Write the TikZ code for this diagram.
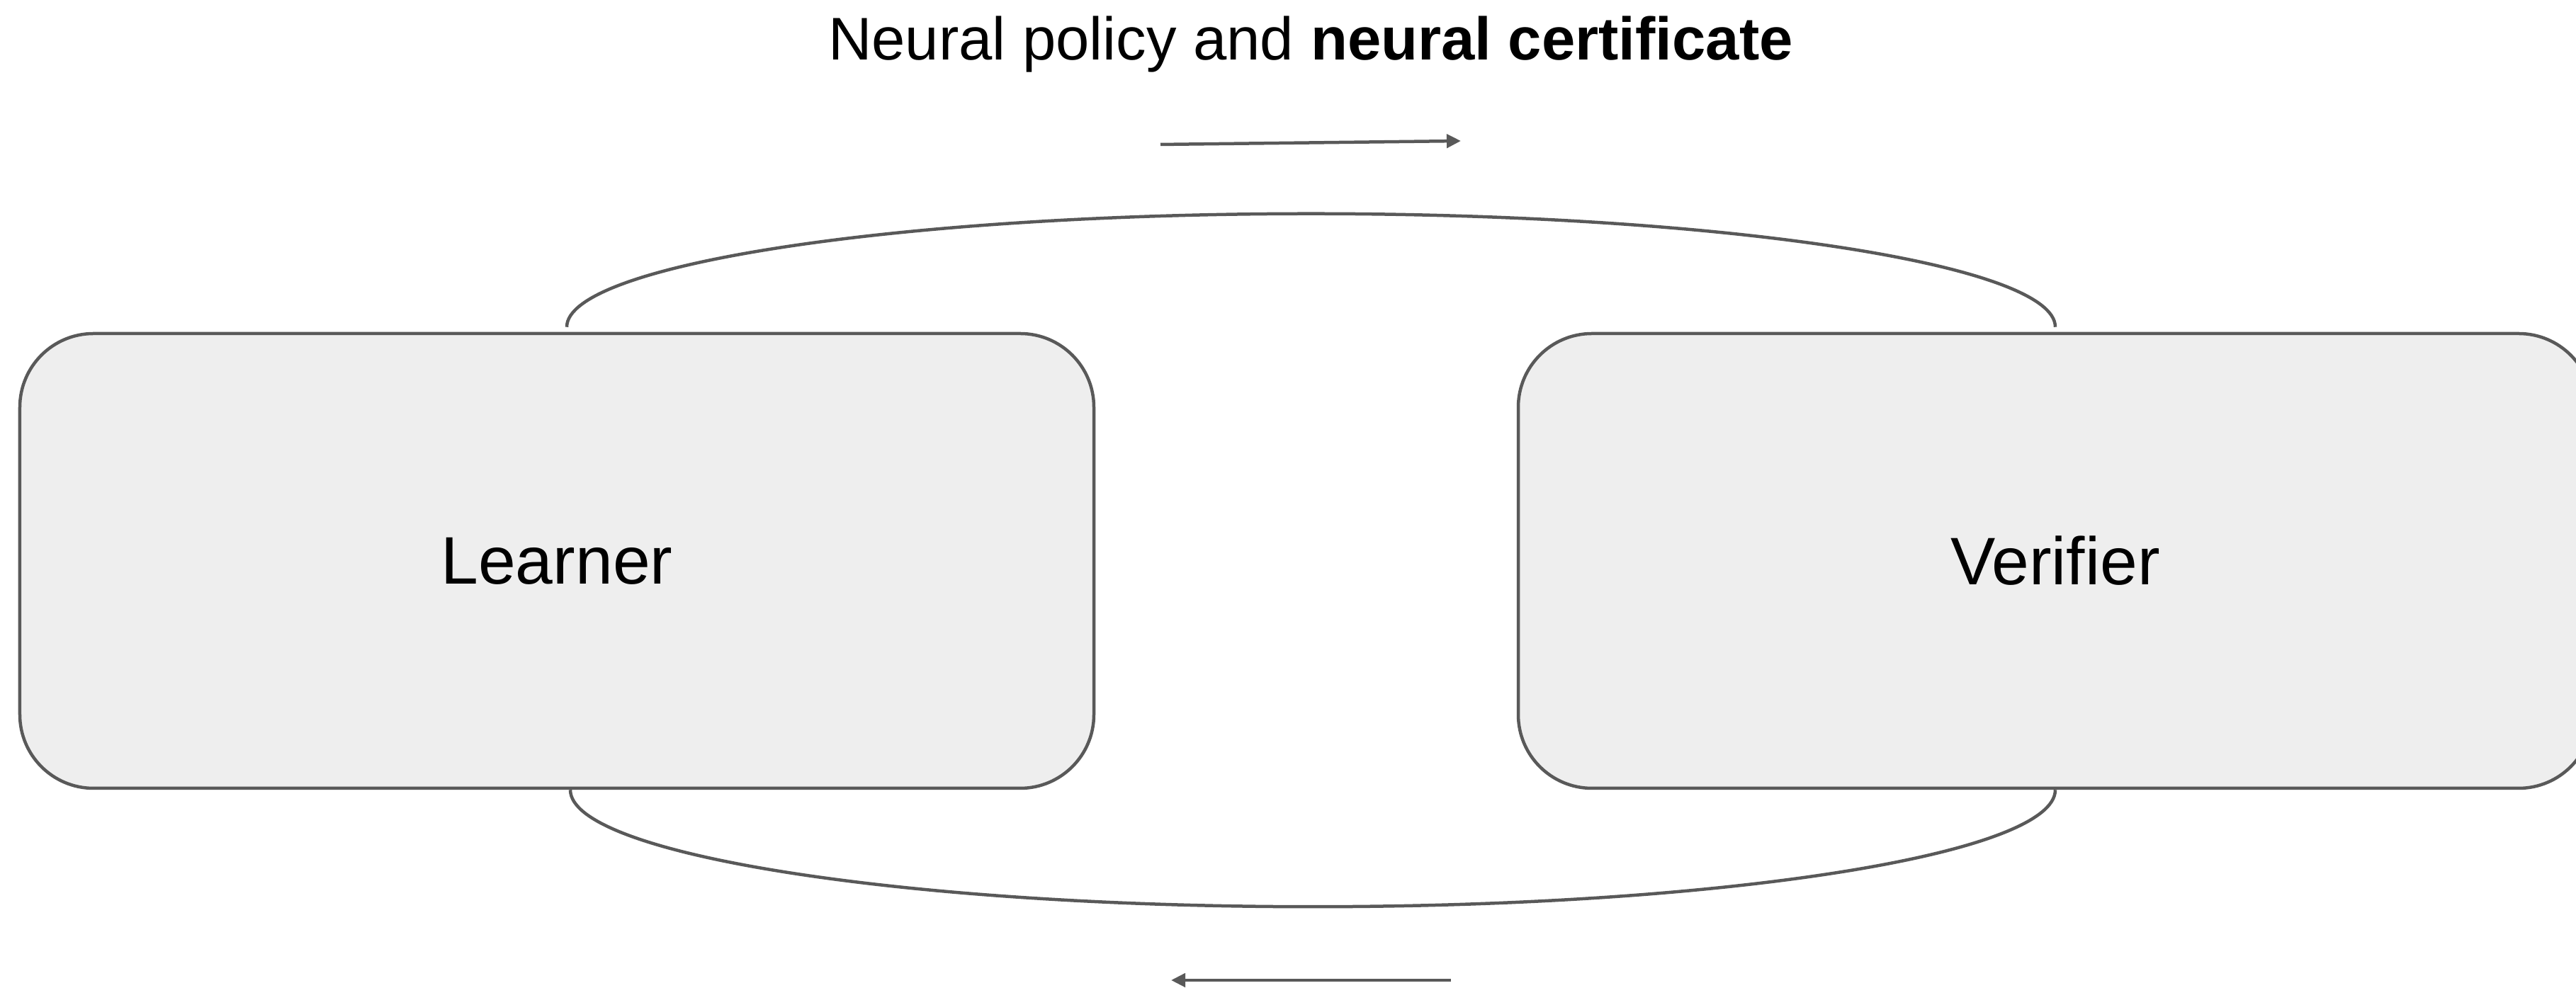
\documentclass[tikz,border=0pt]{standalone}
\usepackage{fontspec}
\setmainfont{Liberation Sans}
\usepackage{tikz}
\usetikzlibrary{positioning,arrows.meta,calc}
\definecolor{trazo}{HTML}{595959}
\definecolor{relleno}{HTML}{EEEEEE}

\begin{document}
\begin{tikzpicture}[
  font=\fontsize{27pt}{32pt}\selectfont,
  bloque/.style={draw=trazo, fill=relleno, line width=0.045cm, rounded corners=1.04cm,
                 minimum width=15.16cm, minimum height=6.42cm, inner sep=0pt},
  lazo/.style={draw=trazo, line width=0.045cm},
  flecha/.style={-{Triangle[length=0.2cm, width=0.19cm]}, draw=trazo, line width=0.045cm}
]
  \clip (0,0) rectangle (36.36,13.95);

  % --- titulo
  \node[anchor=base, font=\fontsize{24.2pt}{29pt}\selectfont] (titulo) at (18.5,13.1)
        {Neural policy and \textbf{neural certificate}};

  % --- bloques
  \node[bloque] (learner) at (7.86,6.03) {Learner};
  \node[bloque] (verifier) at ([xshift=21.15cm]learner.center) {Verifier};

  % --- lazo superior (learner -> verifier)
  \coordinate (lt) at ([xshift=0.14cm, yshift=0.07cm]learner.north);
  \coordinate (vt) at ([yshift=0.07cm]verifier.north);
  \coordinate (cimatop) at ($(lt)!0.5!(vt) + (0,1.6)$);
  \draw[lazo] (lt) .. controls +(0,0.884) and +(-5.8,0) .. (cimatop)
                   .. controls +(5.8,0) and +(0,0.884) .. (vt);
  \coordinate (ft1) at (16.38,11.91);
  \coordinate (ft2) at (20.62,11.96);
  \draw[flecha] (ft1) -- (ft2);

  % --- lazo inferior (verifier -> learner)
  \coordinate (lb) at ([xshift=0.19cm]learner.south);
  \coordinate (vb) at (verifier.south);
  \coordinate (cimabot) at ($(lb)!0.5!(vb) + (0,-1.65)$);
  \draw[lazo] (lb) .. controls +(0,-0.911) and +(-5.79,0) .. (cimabot)
                   .. controls +(5.79,0) and +(0,-0.911) .. (vb);
  \coordinate (fb1) at (20.48,0.11);
  \coordinate (fb2) at (16.53,0.11);
  \draw[flecha] (fb1) -- (fb2);
\end{tikzpicture}
\end{document}
